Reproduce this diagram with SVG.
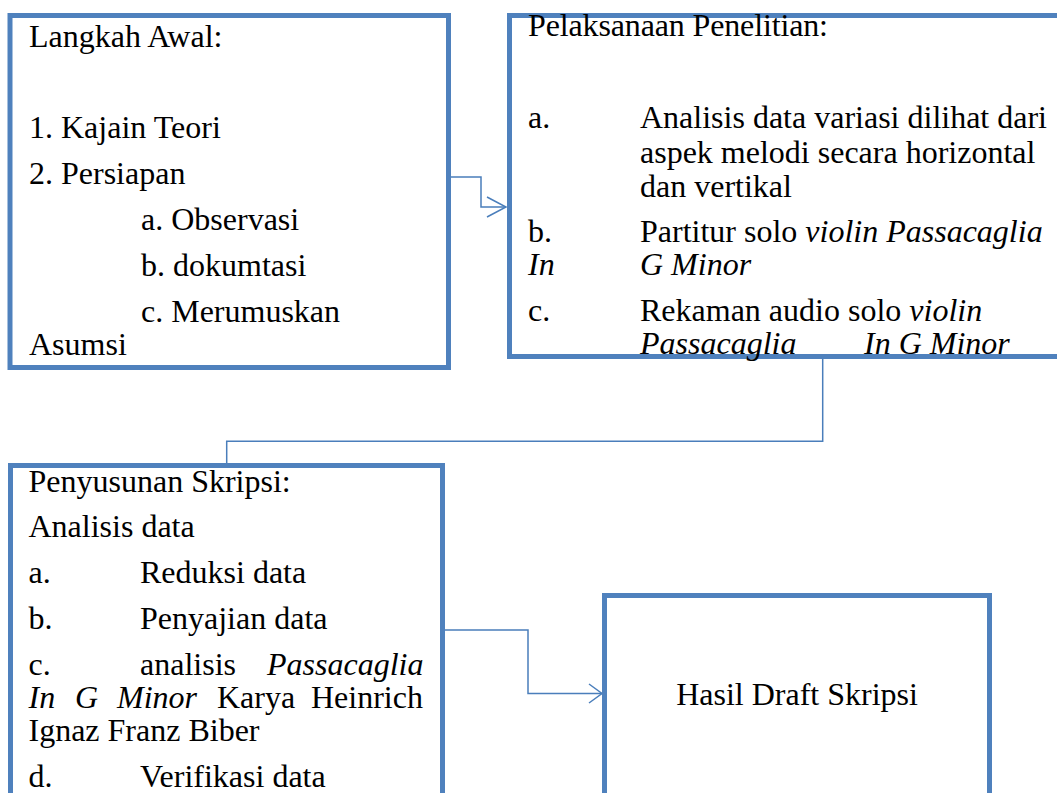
<svg xmlns="http://www.w3.org/2000/svg" width="1057" height="793" viewBox="0 0 1057 793">
<defs>
<style>
.box{fill:#ffffff;stroke:#4f81bd;stroke-width:5}
.conn{fill:none;stroke:#4a7ebb;stroke-width:1.5}
.t{font-family:'Liberation Serif','Times New Roman',serif;font-size:32px;fill:#000000}
.it{font-style:italic}
</style>
</defs>
<rect width="1057" height="793" fill="#ffffff"/>
<g id="connectors">
<path class="conn" d="M451 177 H481 V207 H506"/>
<path class="conn" d="M487 197 L506 207 L487 217"/>
<path class="conn" d="M822.7 358 V441.3 H226.7 V463"/>
<path class="conn" d="M445 630 H528 V693.5 H602"/>
<path class="conn" d="M589 684 L602 693.5 L589 703"/>
</g>
<g class="t">
<g id="node-langkah-awal">
<rect class="box" x="10" y="15.5" width="438.5" height="352"/>
<text x="29" y="47">Langkah Awal:</text>
<text x="29" y="138">1. Kajain Teori</text>
<text x="29" y="184">2. Persiapan</text>
<text x="141" y="230">a. Observasi</text>
<text x="141" y="276">b. dokumtasi</text>
<text x="141" y="322">c. Merumuskan</text>
<text x="29" y="355">Asumsi</text>
</g>
<g id="node-pelaksanaan">
<rect class="box" x="509.5" y="15.5" width="600" height="341"/>
<text x="528" y="36" textLength="300">Pelaksanaan Penelitian:</text>
<text x="528" y="128">a.</text>
<text x="640" y="128">Analisis data variasi dilihat dari</text>
<text x="640" y="163">aspek melodi secara horizontal</text>
<text x="640" y="197">dan vertikal</text>
<text x="528" y="242">b.</text>
<text x="640" y="242">Partitur solo <tspan class="it">violin Passacaglia</tspan></text>
<text x="528" y="275" class="it">In</text>
<text x="640" y="275" class="it">G Minor</text>
<text x="528" y="321">c.</text>
<text x="640" y="321">Rekaman audio solo <tspan class="it">violin</tspan></text>
<text x="640" y="354" class="it">Passacaglia</text>
<text x="864" y="354" class="it">In G Minor</text>
</g>
<g id="node-penyusunan">
<rect class="box" x="10.5" y="465.5" width="432" height="330"/>
<text x="28.5" y="492">Penyusunan Skripsi:</text>
<text x="28.5" y="537">Analisis data</text>
<text x="28.5" y="583">a.</text>
<text x="140" y="583">Reduksi data</text>
<text x="28.5" y="629">b.</text>
<text x="140" y="629">Penyajian data</text>
<text x="28.5" y="675">c.</text>
<text x="140" y="675">analisis</text>
<text x="267" y="675" class="it">Passacaglia</text>
<text x="28.5" y="708" class="it">In</text>
<text x="75" y="708" class="it">G</text>
<text x="117" y="708" class="it">Minor</text>
<text x="217" y="708">Karya</text>
<text x="311" y="708">Heinrich</text>
<text x="28.5" y="741">Ignaz Franz Biber</text>
<text x="28.5" y="787">d.</text>
<text x="140" y="787">Verifikasi data</text>
</g>
<g id="node-hasil">
<rect class="box" x="604.5" y="595.5" width="385" height="200"/>
<text x="797" y="705" text-anchor="middle">Hasil Draft Skripsi</text>
</g>
</g>
</svg>
